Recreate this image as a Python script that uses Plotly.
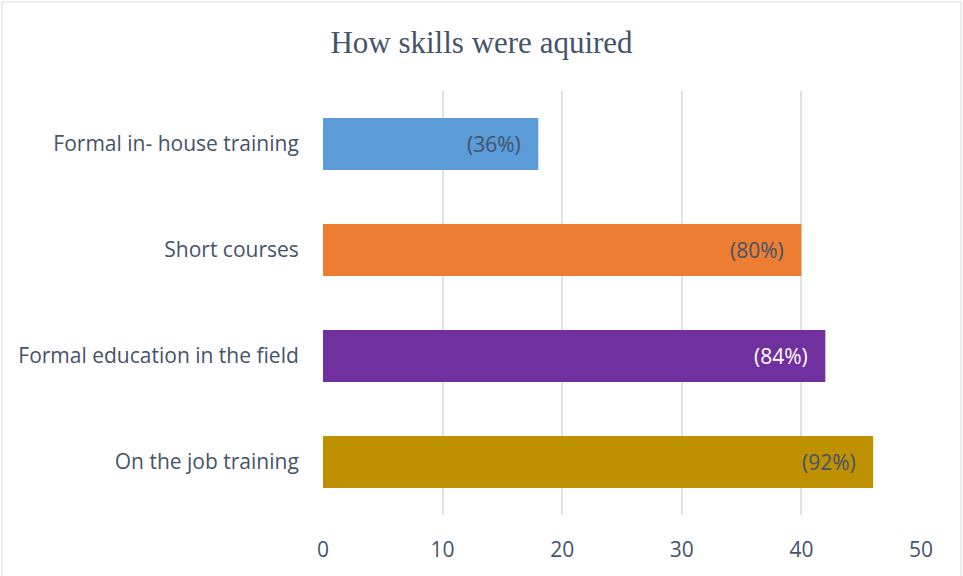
import plotly.graph_objects as go

categories = ["Formal in- house training", "Short courses", "Formal education in the field", "On the job training"]
values = [18, 40, 42, 46]
labels = ["(36%)", "(80%)", "(84%)", "(92%)"]
colors = ["#5B9BD8", "#ED7D31", "#7030A0", "#BF9000"]
label_colors = ["#44546A", "#44546A", "#FFFFFF", "#44546A"]
x_ticks = [0, 10, 20, 30, 40, 50]

W, H = 963, 576
ml, mr, mt, mb = 323, 42, 91, 61

fig = go.Figure()
fig.add_trace(go.Bar(
    y=categories, x=values, orientation="h",
    marker=dict(color=colors, line=dict(width=0)),
    width=0.49, hoverinfo="skip",
))

for c, v, t, tc in zip(categories, values, labels, label_colors):
    fig.add_annotation(x=v, y=c, text=t, showarrow=False, xanchor="right",
                       xshift=-15, font=dict(family="Open Sans", size=21, color=tc))

pw = W - ml - mr
ph = H - mt - mb
fig.add_shape(type="rect", xref="paper", yref="paper",
              x0=(2 - ml) / pw, x1=(W - 2 - ml) / pw,
              y0=-(mb + 5) / ph,
              y1=1 + (mt - 2) / ph,
              line=dict(color="#D9D9D9", width=1), layer="below")

fig.update_layout(
    width=W, height=H,
    margin=dict(l=ml, r=mr, t=mt, b=mb),
    paper_bgcolor="white", plot_bgcolor="white",
    showlegend=False,
    title=dict(text="How skills were aquired", x=0.5, xanchor="center",
               y=1 - 42 / H, yanchor="middle",
               font=dict(family="Liberation Serif", size=31, color="#44546A")),
    xaxis=dict(range=[0, 50], tickvals=x_ticks, showgrid=True, gridcolor="#DEE2E8",
               gridwidth=2, zeroline=False, showline=False,
               ticks="outside", ticklen=16, tickcolor="rgba(0,0,0,0)",
               tickfont=dict(family="Open Sans", size=21, color="#44546A")),
    yaxis=dict(autorange="reversed", showgrid=False, zeroline=False, showline=False,
               ticks="outside", ticklen=19, tickcolor="rgba(0,0,0,0)",
               tickfont=dict(family="Open Sans", size=21, color="#44546A")),
)

fig.write_html("out.html", config={"displayModeBar": False},
               post_script="document.body.style.margin='0';")
